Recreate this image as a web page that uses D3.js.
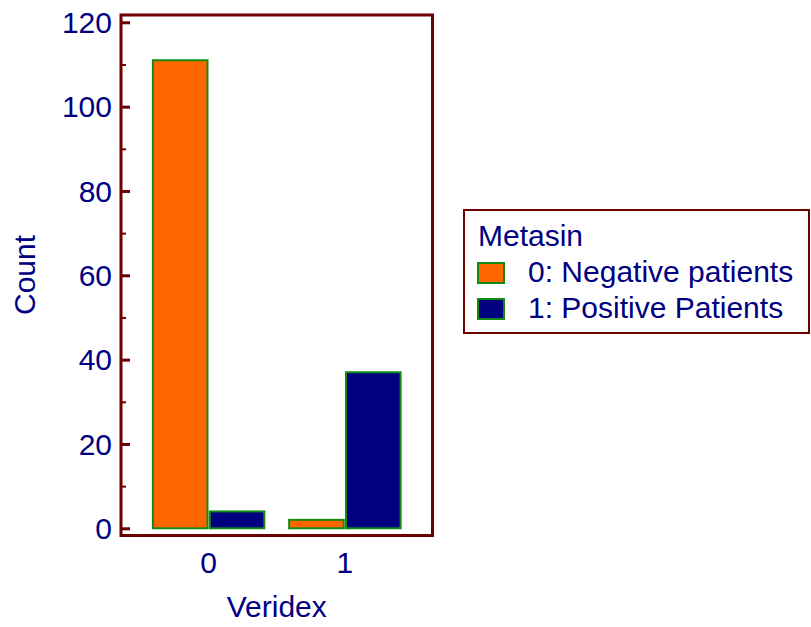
<!DOCTYPE html>
<html>
<head>
<meta charset="utf-8">
<script src="https://cdn.jsdelivr.net/npm/d3@7"></script>
<style>
  html, body { margin: 0; padding: 0; background: #ffffff; }
  svg { display: block; }
  text { font-family: "Liberation Sans", Arial, Helvetica, sans-serif; fill: #000080; }
</style>
</head>
<body>
<svg id="chart" width="811" height="627"></svg>
<script>
// Veridex result vs. Metasin outcome: patient counts
const categories = ["0", "1"];
const seriesNames = ["0: Negative patients", "1: Positive Patients"];
const negativeCounts = [111, 2];
const positiveCounts = [4, 37];
const yTicks = [0, 20, 40, 60, 80, 100, 120];
const yMinorTicks = [10, 30, 50, 70, 90, 110];
const legendTitle = "Metasin";
const xTitle = "Veridex";
const yTitle = "Count";

const seriesValues = [negativeCounts, positiveCounts];
const seriesColors = ["#ff6600", "#000080"];
const frameColor = "#6e0000";
const barStroke = "#138a13";
const fontSize = 30;

const svg = d3.select("#chart");

const frame = { left: 121, right: 432.5, top: 15, bottom: 535.5 };

const y = d3.scaleLinear().domain([0, 120]).range([528.3, 22.3]);
const x = d3.scaleBand().domain(categories)
  .range([frame.left, frame.right])
  .paddingInner(0.182).paddingOuter(0.234);
const xs = d3.scaleBand().domain(d3.range(seriesNames.length))
  .range([0, x.bandwidth()]).paddingInner(0.04);

// bars
const rows = [];
categories.forEach((c, ci) => {
  seriesValues.forEach((vals, si) => rows.push({ c, si, v: vals[ci] }));
});
svg.append("g").selectAll("rect").data(rows).join("rect")
  .attr("x", d => x(d.c) + xs(d.si))
  .attr("width", xs.bandwidth())
  .attr("y", d => y(d.v))
  .attr("height", d => y(0) - y(d.v))
  .attr("fill", d => seriesColors[d.si])
  .attr("stroke", barStroke)
  .attr("stroke-width", 2);

// plot frame
svg.append("rect")
  .attr("x", frame.left).attr("y", frame.top)
  .attr("width", frame.right - frame.left)
  .attr("height", frame.bottom - frame.top)
  .attr("fill", "none")
  .attr("stroke", frameColor)
  .attr("stroke-width", 3);

// y axis: ticks point inward from the frame's left edge
const yAxis = d3.axisRight(y).tickValues(yTicks).tickSize(9).tickFormat("");
const gy = svg.append("g").attr("transform", `translate(${frame.left},0)`).call(yAxis);
gy.select(".domain").remove();
gy.selectAll(".tick line").attr("stroke", frameColor).attr("stroke-width", 3);

const yMinor = d3.axisRight(y).tickValues(yMinorTicks).tickSize(5).tickFormat("");
const gyMinor = svg.append("g").attr("transform", `translate(${frame.left},0)`).call(yMinor);
gyMinor.select(".domain").remove();
gyMinor.selectAll(".tick line").attr("stroke", frameColor).attr("stroke-width", 2);

svg.append("g").selectAll("text").data(yTicks).join("text")
  .attr("x", 112)
  .attr("y", d => y(d))
  .attr("dy", "0.36em")
  .attr("text-anchor", "end")
  .attr("font-size", fontSize)
  .text(d => d);

// x tick labels
svg.append("g").selectAll("text").data(categories).join("text")
  .attr("x", d => x(d) + x.bandwidth() / 2)
  .attr("y", 573)
  .attr("text-anchor", "middle")
  .attr("font-size", fontSize)
  .text(d => d);

// axis titles
svg.append("text")
  .attr("x", (frame.left + frame.right) / 2)
  .attr("y", 617)
  .attr("text-anchor", "middle")
  .attr("font-size", fontSize)
  .text(xTitle);

svg.append("text")
  .attr("transform", "translate(35,275) rotate(-90)")
  .attr("text-anchor", "middle")
  .attr("font-size", fontSize)
  .text(yTitle);

// legend
const legend = svg.append("g");
legend.append("rect")
  .attr("x", 464).attr("y", 210)
  .attr("width", 345).attr("height", 123)
  .attr("fill", "#ffffff")
  .attr("stroke", frameColor)
  .attr("stroke-width", 2);
legend.append("text")
  .attr("x", 478).attr("y", 246)
  .attr("font-size", fontSize)
  .text(legendTitle);
const items = legend.selectAll("g.item").data(seriesNames).join("g")
  .attr("class", "item")
  .attr("transform", (d, i) => `translate(0,${i * 36})`);
items.append("rect")
  .attr("x", 478).attr("y", 263)
  .attr("width", 26).attr("height", 20)
  .attr("fill", (d, i) => seriesColors[i])
  .attr("stroke", barStroke)
  .attr("stroke-width", 2);
items.append("text")
  .attr("x", 528).attr("y", 282)
  .attr("font-size", fontSize)
  .text(d => d);
</script>
</body>
</html>
